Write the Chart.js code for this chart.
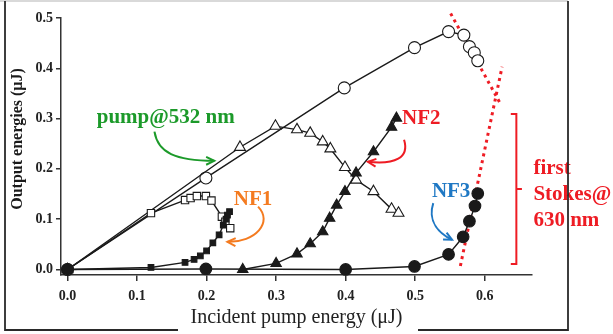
<!DOCTYPE html>
<html>
<head>
<meta charset="utf-8">
<script src="https://cdn.jsdelivr.net/npm/chart.js@4.4.1/dist/chart.umd.min.js"></script>
<style>
  html, body { margin: 0; padding: 0; background: #fff; }
  #wrap { width: 613px; height: 334px; }
</style>
</head>
<body>
<div id="wrap"><canvas id="chart" width="613" height="334"></canvas></div>
<script>
/* Data (energies in uJ) */

const pumpX = [0, 0.199, 0.398, 0.499, 0.548, 0.570, 0.578, 0.585, 0.590]
const pumpY = [0, 0.182, 0.361, 0.441, 0.473, 0.466, 0.443, 0.431, 0.415]

const depletedX = [0, 0.248, 0.299, 0.330, 0.349, 0.367, 0.378, 0.399, 0.415, 0.440, 0.466, 0.476]
const depletedY = [0, 0.243, 0.285, 0.278, 0.271, 0.254, 0.240, 0.203, 0.178, 0.155, 0.120, 0.112]

const nf1PumpX = [0, 0.120, 0.169, 0.177, 0.186, 0.199, 0.207, 0.222, 0.227, 0.234]
const nf1PumpY = [0, 0.112, 0.138, 0.142, 0.146, 0.146, 0.137, 0.105, 0.095, 0.082]

const nf1X = [0, 0.120, 0.169, 0.182, 0.191, 0.200, 0.209, 0.218, 0.224, 0.228, 0.230, 0.233]
const nf1Y = [0, 0.004, 0.014, 0.020, 0.027, 0.037, 0.053, 0.069, 0.088, 0.100, 0.108, 0.115]

const nf2X = [0.252, 0.300, 0.330, 0.349, 0.367, 0.377, 0.387, 0.399, 0.415, 0.440, 0.466, 0.473]
const nf2Y = [0, 0.012, 0.031, 0.051, 0.075, 0.102, 0.128, 0.155, 0.192, 0.234, 0.283, 0.301]

const nf3X = [0, 0.199, 0.400, 0.499, 0.548, 0.569, 0.578, 0.586, 0.590]
const nf3Y = [0, 0.001, 0, 0.006, 0.030, 0.065, 0.096, 0.126, 0.151]

const stokesUpX = [0.565, 0.625]
const stokesUpY = [0.007, 0.403]
const stokesDownX = [0.551, 0.622]
const stokesDownY = [0.509, 0.331]

const xTicks = [0, 0.1, 0.2, 0.3, 0.4, 0.5, 0.6]
const yTicks = [0, 0.1, 0.2, 0.3, 0.4, 0.5]

/* Styles */

const serif = 'Liberation Serif, Times New Roman, serif'
const ink = '#1a1a1a'
const green = '#1c9a2a'
const orange = '#f47b20'
const red = '#ee1c24'
const blue = '#1f78c4'

function pts(xs, ys) {
  return xs.map((x, i) => ({ x: x, y: ys[i] }))
}

function markerSet(xs, ys, style, radius, filled) {
  return {
    data: pts(xs, ys),
    showLine: true,
    borderColor: ink,
    borderWidth: 1.4,
    pointStyle: style,
    pointRadius: radius,
    pointBorderWidth: 1.1,
    pointBorderColor: ink,
    pointBackgroundColor: filled ? ink : '#fff',
    clip: false
  }
}

function dotted(xs, ys) {
  return {
    data: pts(xs, ys),
    showLine: true,
    borderColor: red,
    borderWidth: 3,
    borderDash: [3, 4],
    pointRadius: 0,
    clip: false
  }
}

/* Annotations, placed in data units */

const notes = [
  { text: 'pump@532 nm', x: 0.042, y: 0.291, color: green },
  { text: 'NF1', x: 0.239, y: 0.128, color: orange },
  { text: 'NF2', x: 0.481, y: 0.289, color: red },
  { text: 'NF3', x: 0.524, y: 0.145, color: blue },
  { text: 'first', x: 0.670, y: 0.190, color: red },
  { text: 'Stokes@', x: 0.670, y: 0.138, color: red },
  { text: '630 nm', x: 0.670, y: 0.086, color: red }
]

const arrows = [
  { color: green, p: [[0.125, 0.274], [0.130, 0.232], [0.155, 0.216], [0.211, 0.216]] },
  { color: orange, p: [[0.274, 0.125], [0.296, 0.094], [0.270, 0.053], [0.230, 0.055]] },
  { color: red, p: [[0.484, 0.258], [0.492, 0.222], [0.471, 0.208], [0.432, 0.214]] },
  { color: blue, p: [[0.526, 0.132], [0.517, 0.094], [0.536, 0.071], [0.553, 0.059]] }
]

const bracket = { x: 0.6455, top: 0.309, bottom: 0.011, mid: 0.160, arm: 0.008 }

const decor = {
  id: 'decor',
  afterDatasetsDraw(chart) {
    const ctx = chart.ctx
    const sx = chart.scales.x
    const sy = chart.scales.y
    const px = v => sx.getPixelForValue(v)
    const py = v => sy.getPixelForValue(v)
    ctx.save()

    // arrows
    arrows.forEach(a => {
      const q = a.p.map(p => ({ x: px(p[0]), y: py(p[1]) }))
      ctx.strokeStyle = a.color
      ctx.lineWidth = 2
      ctx.beginPath()
      ctx.moveTo(q[0].x, q[0].y)
      ctx.bezierCurveTo(q[1].x, q[1].y, q[2].x, q[2].y, q[3].x, q[3].y)
      ctx.stroke()
      const ang = Math.atan2(q[3].y - q[2].y, q[3].x - q[2].x)
      const len = 9
      ctx.beginPath()
      ctx.moveTo(q[3].x - len * Math.cos(ang - 0.45), q[3].y - len * Math.sin(ang - 0.45))
      ctx.lineTo(q[3].x, q[3].y)
      ctx.lineTo(q[3].x - len * Math.cos(ang + 0.45), q[3].y - len * Math.sin(ang + 0.45))
      ctx.stroke()
    })

    // bracket for the first Stokes points
    ctx.strokeStyle = red
    ctx.lineWidth = 2
    ctx.beginPath()
    ctx.moveTo(px(bracket.x - bracket.arm), py(bracket.top))
    ctx.lineTo(px(bracket.x), py(bracket.top))
    ctx.lineTo(px(bracket.x), py(bracket.bottom))
    ctx.lineTo(px(bracket.x - bracket.arm), py(bracket.bottom))
    ctx.moveTo(px(bracket.x), py(bracket.mid))
    ctx.lineTo(px(bracket.x + bracket.arm), py(bracket.mid))
    ctx.stroke()

    // labels
    ctx.font = 'bold 21px ' + serif
    ctx.textAlign = 'left'
    ctx.textBaseline = 'alphabetic'
    notes.forEach(n => {
      ctx.fillStyle = n.color
      ctx.fillText(n.text, px(n.x), py(n.y))
    })
    ctx.restore()
  },
  afterDraw(chart) {
    const ctx = chart.ctx
    const area = chart.chartArea
    ctx.save()

    // y axis title
    ctx.translate(17.5, 139)
    ctx.rotate(-Math.PI / 2)
    ctx.font = 'bold 16px ' + serif
    ctx.fillStyle = ink
    ctx.textAlign = 'center'
    ctx.textBaseline = 'middle'
    ctx.fillText('Output energies (μJ)', 0, 0)
    ctx.setTransform(1, 0, 0, 1, 0, 0)

    // outer frame, broken by the x title
    ctx.strokeStyle = '#cccccc'
    ctx.lineWidth = 1.5
    ctx.beginPath()
    ctx.moveTo(0, 1)
    ctx.lineTo(568, 1)
    ctx.stroke()
    ctx.strokeStyle = '#2a2a2a'
    ctx.lineWidth = 1.8
    ctx.beginPath()
    ctx.moveTo(5, 1)
    ctx.lineTo(5, 330)
    ctx.lineTo(178, 330)
    ctx.moveTo(418, 330)
    ctx.lineTo(568, 330)
    ctx.lineTo(568, 1)
    ctx.stroke()
    ctx.restore()
  }
}

const tickFont = { family: serif, size: 14, weight: 'bold' }

new Chart(document.getElementById('chart'), {
  type: 'scatter',
  data: {
    datasets: [
      markerSet(nf3X, nf3Y, 'circle', 5.8, true),
      markerSet(nf2X, nf2Y, 'triangle', 6, true),
      markerSet(nf1X, nf1Y, 'rect', 4, true),
      markerSet(nf1PumpX, nf1PumpY, 'rect', 5.2, false),
      markerSet(depletedX, depletedY, 'triangle', 6.3, false),
      markerSet(pumpX, pumpY, 'circle', 6, false),
      dotted(stokesUpX, stokesUpY),
      dotted(stokesDownX, stokesDownY)
    ]
  },
  options: {
    responsive: false,
    animation: false,
    layout: { padding: { left: 0, right: 81, top: 18, bottom: 0 } },
    plugins: {
      legend: { display: false },
      tooltip: { enabled: false }
    },
    scales: {
      x: {
        type: 'linear',
        min: -0.0094,
        max: 0.668,
        afterBuildTicks: s => { s.ticks = xTicks.map(v => ({ value: v })) },
        afterFit: s => { s.height = 59 },
        grid: { drawOnChartArea: false, drawTicks: true, tickLength: 6, color: '#333', lineWidth: 1.5 },
        border: { display: true, color: '#333', width: 1.5 },
        ticks: {
          color: '#222', font: tickFont, padding: 7, maxRotation: 0, autoSkip: false,
          callback: v => v.toFixed(1)
        },
        title: {
          display: true,
          text: 'Incident pump energy (μJ)',
          color: '#222',
          font: { family: serif, size: 20 },
          padding: { top: 0, bottom: 4 }
        }
      },
      y: {
        type: 'linear',
        min: -0.011,
        max: 0.5,
        afterBuildTicks: s => { s.ticks = yTicks.map(v => ({ value: v })) },
        afterFit: s => { s.width = 61 },
        grid: { drawOnChartArea: false, drawTicks: true, tickLength: 5, color: '#333', lineWidth: 1.5 },
        border: { display: true, color: '#333', width: 1.5 },
        ticks: {
          color: '#222', font: tickFont, padding: 3, autoSkip: false,
          callback: v => v.toFixed(1)
        }
      }
    }
  },
  plugins: [decor]
})
</script>
</body>
</html>
